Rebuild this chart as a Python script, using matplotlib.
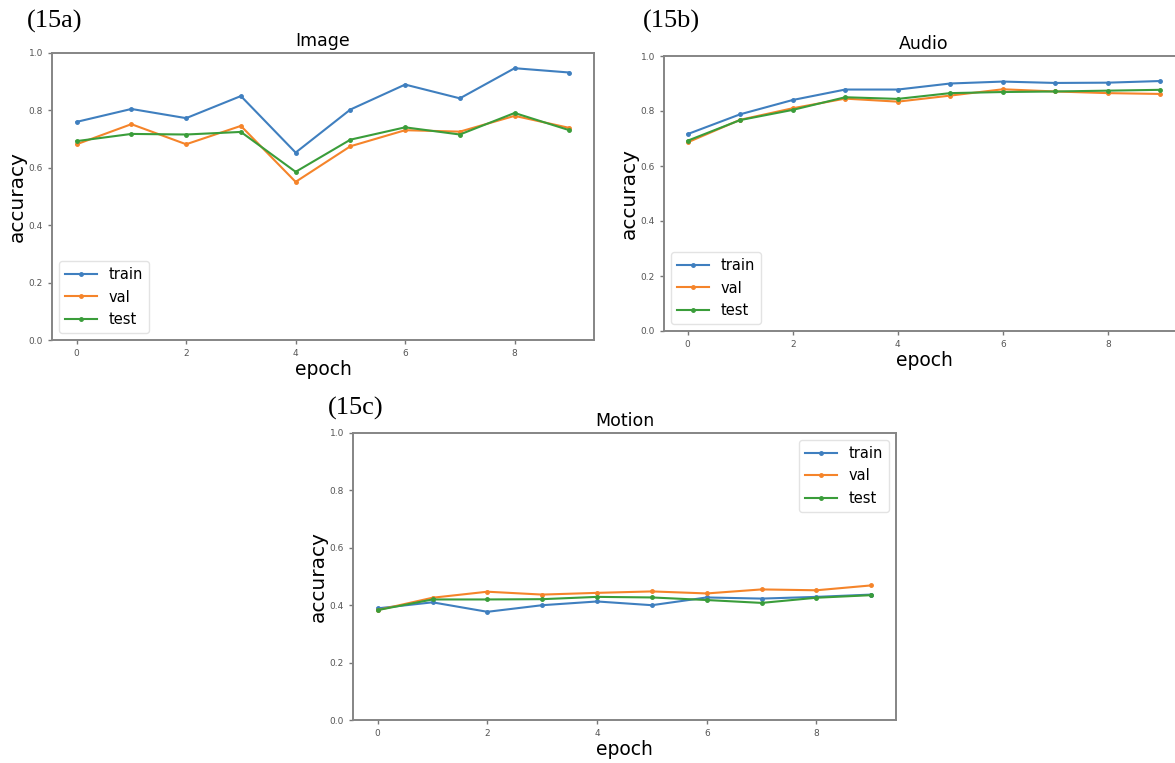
import matplotlib
matplotlib.use("Agg")
import matplotlib.pyplot as plt

W, H = 1175, 763

epochs = list(range(10))
series_names = ["train", "val", "test"]

# (15a) Image
image_train = [0.760, 0.805, 0.773, 0.850, 0.653, 0.803, 0.890, 0.842, 0.947, 0.932]
image_val = [0.682, 0.752, 0.682, 0.746, 0.551, 0.675, 0.731, 0.726, 0.781, 0.739]
image_test = [0.693, 0.718, 0.716, 0.725, 0.586, 0.698, 0.741, 0.716, 0.791, 0.731]

# (15b) Audio
audio_train = [0.716, 0.788, 0.840, 0.878, 0.878, 0.900, 0.907, 0.902, 0.903, 0.909]
audio_val = [0.686, 0.768, 0.810, 0.845, 0.834, 0.856, 0.879, 0.871, 0.865, 0.862]
audio_test = [0.692, 0.767, 0.804, 0.850, 0.844, 0.865, 0.869, 0.871, 0.874, 0.877]

# (15c) Motion
motion_train = [0.389, 0.410, 0.377, 0.400, 0.413, 0.400, 0.427, 0.423, 0.429, 0.437]
motion_val = [0.383, 0.426, 0.447, 0.437, 0.443, 0.448, 0.441, 0.455, 0.452, 0.469]
motion_test = [0.383, 0.420, 0.420, 0.421, 0.429, 0.427, 0.418, 0.408, 0.426, 0.435]

colors = ["#3f7fbf", "#f5842a", "#3a9d3a"]


def px_rect(left, top, right, bottom):
    """axes rectangle from pixel edges (origin top-left)"""
    return [left / W, 1 - bottom / H, (right - left) / W, (bottom - top) / H]


def panel(fig, rect, title, data, legend_loc):
    ax = fig.add_axes(rect)
    for name, vals, col in zip(series_names, data, colors):
        ax.plot(epochs, vals, marker=".", markersize=5, lw=1.5, color=col, label=name)
    ax.set_ylim(0, 1.0)
    ax.set_xticks([0, 2, 4, 6, 8])
    ax.set_yticks([0.0, 0.2, 0.4, 0.6, 0.8, 1.0])
    ax.tick_params(labelsize=6.5, labelcolor="#555555", color="#777777",
                   length=3, width=1)
    for sp in ax.spines.values():
        sp.set_color("#858585")
        sp.set_linewidth(1.4)
    ax.set_title(title, fontsize=12.5, pad=5)
    ax.set_ylabel("accuracy", fontsize=14.5)
    ax.set_xlabel("epoch", fontsize=13.5)
    wpx = rect[2] * W
    hpx = rect[3] * H
    ax.yaxis.set_label_coords(-25 / wpx, 0.5)
    ax.xaxis.set_label_coords(0.5, -20 / hpx)
    ax.legend(loc=legend_loc, fontsize=10.5, handlelength=2.2, edgecolor="#dddddd")
    return ax


fig = plt.figure(figsize=(W / 100, H / 100), dpi=100)

panel(fig, px_rect(52, 53, 594, 340), "Image",
      [image_train, image_val, image_test], "lower left")
panel(fig, px_rect(664, 56, 1184, 331), "Audio",
      [audio_train, audio_val, audio_test], "lower left")
panel(fig, px_rect(353, 433, 896, 720), "Motion",
      [motion_train, motion_val, motion_test], "upper right")

label_font = dict(family="Liberation Serif", fontsize=19, va="baseline", ha="left")
fig.text(27 / W, 1 - 28 / H, "(15a)", **label_font)
fig.text(643 / W, 1 - 28 / H, "(15b)", **label_font)
fig.text(328 / W, 1 - 415 / H, "(15c)", **label_font)

fig.savefig("out.png", dpi=100)
